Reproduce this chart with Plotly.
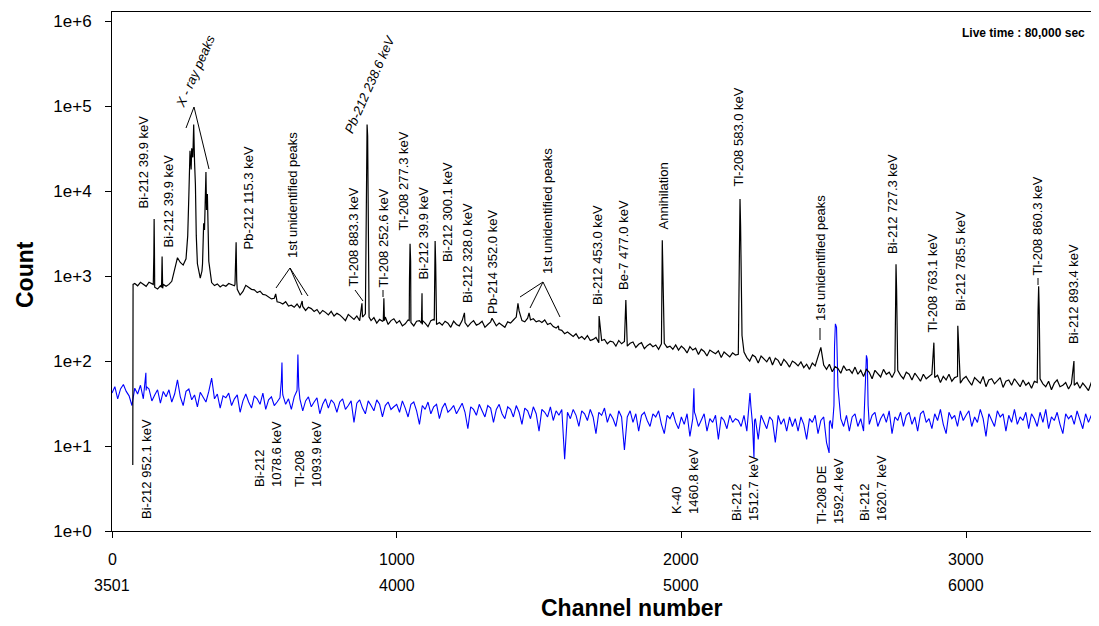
import plotly.graph_objects as go

# ---------------- data ----------------
grid_channels = list(range(0, 3470, 10))

# black spectrum: channels 0-3500, counts at every 10th channel
black_grid_counts = [
    None, None, None, None, None, None, None, None, 820, 770, 845, 800, 760, 850, 815, 740, 705, 770, 800, 760,
    800, 870, 1250, 1650, 1450, 1350, 1600, 9000, 32000, 22000, 1400, 950, 2400, 16800, 1500, 840, 775, 810, 745, 790,
    760, 820, 800, 770, 700, 600, 660, 780, 735, 700, 690, 640, 665, 610, 600, 565, 540, 550, 500, 490,
    470, 500, 445, 455, 430, 470, 420, 440, 395, 430, 415, 385, 405, 360, 395, 375, 350, 385, 340, 365,
    350, 325, 300, 355, 335, 310, 340, 300, 330, 360, 3000, 300, 325, 280, 310, 295, 330, 270, 300, 315,
    280, 300, 260, 275, 305, 285, 260, 295, 300, 270, 280, 255, 300, 310, 270, 285, 265, 295, 280, 250,
    295, 270, 260, 300, 285, 255, 280, 300, 265, 275, 295, 250, 270, 290, 300, 260, 280, 265, 250, 290,
    280, 305, 330, 390, 300, 290, 320, 305, 315, 290, 300, 285, 305, 270, 280, 255, 245, 235, 230, 210,
    220, 205, 195, 210, 185, 195, 180, 200, 175, 180, 190, 165, 175, 180, 160, 172, 168, 150, 175, 160,
    170, 150, 162, 168, 145, 158, 165, 140, 152, 160, 148, 155, 138, 160, 162, 145, 150, 138, 155, 135,
    150, 140, 125, 148, 135, 142, 120, 138, 130, 115, 135, 128, 122, 132, 110, 128, 120, 112, 125, 118,
    120, 900, 128, 110, 100, 118, 112, 95, 115, 105, 98, 112, 90, 108, 102, 88, 105, 96, 85, 100,
    95, 88, 98, 84, 92, 80, 95, 88, 110, 145, 90, 80, 92, 75, 86, 82, 72, 88, 78, 80,
    72, 85, 70, 78, 66, 80, 74, 62, 78, 72, 65, 80, 70, 74, 64, 75, 78, 68, 62, 74,
    70, 60, 72, 65, 58, 70, 62, 66, 70, 64, 68, 56, 66, 60, 70, 58, 64, 66, 55, 62,
    66, 58, 52, 64, 60, 55, 66, 50, 60, 62, 54, 58, 64, 49, 58, 60, 52, 62, 55, 50,
    60, 52, 56, 48, 58, 56, 62, 54, 50, 58, 46, 55, 60, 50, 52, 56, 47, 54, 52, 56,
    48, 55, 50, 45, 56, 51, 47,
]
black_peak_channels = [
    73, 74, 145, 147, 148, 149, 174, 176, 178,
    266, 274, 278, 284, 287, 293, 296, 316, 318, 322, 325, 327, 332, 335, 338,
    432, 434, 436, 438, 575, 668, 878, 893, 896, 898, 903, 953, 955, 957,
    1044, 1045, 1047, 1049, 1087, 1089, 1091, 1132, 1133, 1135, 1137, 1139,
    1238, 1335, 1426, 1465, 1568, 1711, 1805, 1931, 1933, 1935, 1938,
    2203, 2206, 2208, 2213, 2752, 2754, 2756, 2758, 2887, 2971, 3253, 3255, 3257, 3379,
]
black_peak_counts = [
    6, 800, 800, 1800, 4700, 2200, 740, 1700, 720,
    3000, 30000, 18000, 25000, 61000, 12000, 3000, 1150, 1400, 4200, 3500, 9000, 6000, 9300, 3200,
    800, 1500, 2500, 900, 620, 510, 480, 8000, 61000, 45000, 330, 300, 550, 300,
    300, 900, 2400, 1500, 280, 630, 300, 300, 1200, 2600, 1400, 300,
    370, 320, 480, 370, 260, 340, 525, 900, 2650, 1200, 170,
    1500, 8100, 4000, 200, 500, 1380, 700, 90, 165, 260, 400, 760, 400, 100,
]

# blue spectrum: channels 3501-7000 drawn on the same axis (offset by 3501)
blue_grid_counts = [
    42, 50, 36, 47, 53, 44, 39, 30, 48, 41, 52, 36, 45, 47, 34, 40, 46, 32, 44, 38,
    46, 33, 41, 60, 38, 30, 44, 47, 35, 40, 29, 43, 38, 33, 44, 63, 36, 41, 28, 39,
    37, 42, 30, 36, 40, 25, 34, 41, 33, 28, 39, 36, 31, 42, 27, 35, 38, 30, 33, 37,
    40, 31, 36, 27, 38, 45, 36, 26, 34, 38, 29, 33, 37, 24, 31, 36, 28, 35, 32, 25,
    33, 36, 27, 30, 34, 19, 32, 35, 28, 24, 34, 30, 26, 35, 31, 22, 30, 33, 27, 29,
    31, 25, 34, 28, 22, 31, 33, 26, 18, 30, 27, 33, 24, 29, 31, 21, 28, 32, 25, 27,
    30, 24, 28, 32, 25, 16, 29, 27, 23, 31, 26, 22, 30, 28, 19, 27, 31, 24, 21, 29,
    27, 22, 30, 25, 18, 28, 26, 21, 29, 24, 15, 27, 25, 22, 29, 20, 26, 23, 27, 7,
    25, 21, 27, 23, 17, 26, 24, 20, 27, 22, 14, 25, 23, 28, 19, 24, 21, 17, 26, 22,
    9, 22, 26, 19, 24, 15, 23, 25, 20, 17, 24, 22, 26, 18, 14, 23, 21, 25, 19, 16,
    22, 18, 24, 13, 21, 23, 17, 20, 24, 15, 21, 19, 23, 12, 22, 20, 16, 23, 19, 21,
    20, 17, 23, 15, 40, 18, 21, 12, 23, 19, 16, 22, 20, 11, 23, 18, 21, 15, 22, 17,
    21, 15, 22, 18, 12, 21, 19, 23, 14, 20, 22, 11, 19, 16, 230, 50, 21, 17, 23, 15,
    22, 24, 17, 21, 15, 117, 18, 23, 25, 17, 21, 24, 19, 26, 14, 22, 20, 25, 17, 23,
    25, 18, 22, 15, 24, 26, 19, 21, 16, 24, 20, 27, 18, 14, 25, 21, 23, 17, 26, 20,
    23, 26, 17, 22, 19, 27, 21, 13, 24, 20, 17, 26, 22, 24, 15, 23, 19, 27, 18, 22,
    20, 25, 16, 24, 21, 17, 25, 19, 27, 16, 22, 20, 25, 18, 14, 24, 21, 23, 18, 26,
    20, 16, 24, 19, 23, 17, 22,
]
blue_peak_channels = [
    119, 121, 595, 597, 599, 651, 653, 656, 2042, 2044, 2046, 2239, 2241, 2244, 2255, 2257,
    2519, 2523, 2536, 2538, 2541, 2545, 2548, 2646, 2648, 2653, 2656,
]
blue_peak_counts = [
    73, 50, 60, 96, 45, 70, 120, 50, 40, 48, 25, 35, 42, 30, 7.3, 20,
    8.3, 20, 30, 150, 275, 250, 120, 60, 100, 105, 30,
]

x_tick_values = [0, 1000, 2000, 3000]
x_tick_labels_top = ["0", "1000", "2000", "3000"]
x_tick_labels_bottom = ["3501", "4000", "5000", "6000"]
y_tick_values = [1, 10, 100, 1000, 10000, 100000, 1000000]
y_tick_labels = ["1e+0", "1e+1", "1e+2", "1e+3", "1e+4", "1e+5", "1e+6"]

black_labels = [
    "Bi-212 39.9 keV", "Bi-212 39.9 keV", "Pb-212 115.3 keV", "1st unidentified peaks",
    "Tl-208 883.3 keV", "Tl-208 252.6 keV", "Tl-208 277.3 keV", "Bi-212 39.9 keV",
    "Bi-212 300.1 keV", "Bi-212 328.0 keV", "Pb-214 352.0 keV", "1st unidentified peaks",
    "Bi-212 453.0 keV", "Be-7 477.0 keV", "Annihilation", "Tl-208 583.0 keV",
    "1st unidentified peaks", "Bi-212 727.3 keV", "Tl-208 763.1 keV", "Bi-212 785.5 keV",
    "Tl-208 860.3 keV", "Bi-212 893.4 keV",
]
blue_labels = [
    "Bi-212 952.1 keV", "Bi-212<br>1078.6 keV", "Tl-208<br>1093.9 keV", "K-40<br>1460.8 keV",
    "Bi-212<br>1512.7 keV", "Tl-208 DE<br>1592.4 keV", "Bi-212<br>1620.7 keV",
]

# ---------------- layout geometry ----------------
# the page body adds an 8px margin, so the figure is drawn 8px smaller and
# all screen-pixel positions below refer to the final 1099x626 window
PAGE_OFF = 8
W, H = 1099 - PAGE_OFF, 626 - PAGE_OFF
PLOT_L, PLOT_R, PLOT_T, PLOT_B = 112, 1099, 12, 531   # plot area in window pixels
X_MAX = 3467
Y_TOP = 6.11
FONT = "Liberation Sans, Arial, sans-serif"


def px2ch(px):
    return (px - PLOT_L) * X_MAX / (PLOT_R - PLOT_L)


def px2p(px):
    return (px - PLOT_L) / (PLOT_R - PLOT_L)


def py2p(py):
    return (PLOT_B - py) / (PLOT_B - PLOT_T)


def merge(grid_vals, peak_ch, peak_cnt):
    pts = list(zip(grid_channels, grid_vals)) + list(zip(peak_ch, peak_cnt))
    pts.sort(key=lambda p: p[0])
    return [p[0] for p in pts], [p[1] for p in pts]


bx, by = merge(black_grid_counts, black_peak_channels, black_peak_counts)
ux, uy = merge(blue_grid_counts, blue_peak_channels, blue_peak_counts)

fig = go.Figure()
fig.add_trace(go.Scatter(x=ux, y=uy, mode="lines", line=dict(color="#0000FF", width=1.1),
                         name="3501-7000", hoverinfo="skip"))
fig.add_trace(go.Scatter(x=bx, y=by, mode="lines", line=dict(color="#000000", width=1.2),
                         name="0-3500", hoverinfo="skip"))

annotations = []
black_label_pos = [
    (143, 211), (168, 250), (248, 252), (292, 260), (353, 289), (383, 290), (403, 233), (423, 282),
    (447, 264), (467, 305), (492, 316), (547, 276), (597, 307), (623, 292), (663, 232), (738, 189),
    (820, 323), (893, 256), (932, 335), (960, 313), (1037, 278), (1073, 346),
]
for txt, (px, py) in zip(black_labels, black_label_pos):
    annotations.append(dict(x=px2ch(px), y=py2p(py), xref="x", yref="paper", text=txt,
                            textangle=-90, xanchor="center", yanchor="bottom", showarrow=False,
                            font=dict(family=FONT, size=13, color="black")))

blue_label_pos = [(146, 521), (268, 489), (308, 489), (685, 516), (745, 523), (830, 526), (873, 523)]
for txt, (px, py) in zip(blue_labels, blue_label_pos):
    annotations.append(dict(x=px2ch(px), y=py2p(py), xref="x", yref="paper", text=txt,
                            textangle=-90, xanchor="center", yanchor="bottom", showarrow=False,
                            align="left", font=dict(family=FONT, size=13, color="black")))

for txt, (px, py) in zip(["X - ray peaks", "Pb-212 238.6 keV"], [(195, 71), (370, 85)]):
    annotations.append(dict(x=px2ch(px), y=py2p(py), xref="x", yref="paper", text="<i>" + txt + "</i>",
                            textangle=-66, xanchor="center", yanchor="middle", showarrow=False,
                            font=dict(family=FONT, size=13, color="black")))

for v, t1, t2 in zip(x_tick_values, x_tick_labels_top, x_tick_labels_bottom):
    annotations.append(dict(x=v, y=py2p(559), xref="x", yref="paper", text=t1, showarrow=False,
                            xanchor="center", yanchor="middle", font=dict(family=FONT, size=16, color="black")))
    annotations.append(dict(x=v, y=py2p(585), xref="x", yref="paper", text=t2, showarrow=False,
                            xanchor="center", yanchor="middle", font=dict(family=FONT, size=16, color="black")))

annotations.append(dict(x=px2p(632), y=py2p(608), xref="paper", yref="paper",
                        text="<b>Channel number</b>", showarrow=False, xanchor="center", yanchor="middle",
                        font=dict(family=FONT, size=23, color="black")))
annotations.append(dict(x=px2p(25), y=py2p(275), xref="paper", yref="paper",
                        text="<b>Count</b>", textangle=-90, showarrow=False, xanchor="center", yanchor="middle",
                        font=dict(family=FONT, size=23, color="black")))
annotations.append(dict(x=px2p(1087), y=py2p(33), xref="paper", yref="paper",
                        text="<b>Live time : 80,000 sec</b>", showarrow=False, xanchor="right", yanchor="middle",
                        font=dict(family=FONT, size=12, color="black")))

connectors = [
    ((194, 107), (186, 128)), ((194, 107), (209, 169)),
    ((290, 268), (276, 288)), ((290, 268), (302, 295)), ((290, 268), (308, 296)),
    ((543, 282), (520, 297)), ((543, 282), (530, 308)), ((543, 282), (560, 317)),
    ((355, 290), (363, 301)), ((383, 290), (383, 297)), ((820, 328), (820, 340)),
    ((1038, 278), (1038, 285)),
]
shapes = []
for (x0, y0), (x1, y1) in connectors:
    shapes.append(dict(type="line", xref="x", yref="paper", x0=px2ch(x0), y0=py2p(y0),
                       x1=px2ch(x1), y1=py2p(y1), line=dict(color="black", width=1)))

fig.update_layout(
    width=W, height=H,
    margin=dict(l=PLOT_L - PAGE_OFF, r=0, t=PLOT_T - PAGE_OFF, b=626 - PLOT_B, pad=0),
    paper_bgcolor="white", plot_bgcolor="white",
    showlegend=False,
    font=dict(family=FONT, color="black"),
    annotations=annotations,
    shapes=shapes,
    xaxis=dict(range=[0, X_MAX], tickvals=x_tick_values, showticklabels=False, ticks="outside",
               ticklen=6, tickcolor="black", showline=True, linecolor="black", linewidth=1,
               mirror=True, showgrid=False, zeroline=False),
    yaxis=dict(type="log", range=[0, Y_TOP], tickvals=y_tick_values, ticktext=y_tick_labels,
               ticks="outside", ticklen=6, tickcolor="black", ticklabelstandoff=10,
               tickfont=dict(family=FONT, size=17, color="black"),
               showline=True, linecolor="black", linewidth=1, showgrid=False, zeroline=False),
)

fig.write_html("out.html")
